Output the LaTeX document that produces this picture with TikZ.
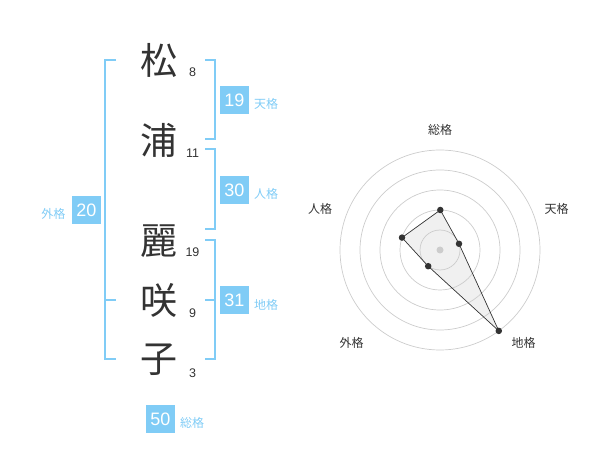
\documentclass[tikz,border=0pt]{standalone}
\usepackage{fontspec}
\setmainfont{Liberation Sans}
\newfontfamily\cjk{Noto Sans CJK JP}
\definecolor{kblue}{HTML}{80CCF6}
\definecolor{ktext}{HTML}{333333}
\definecolor{kgrid}{HTML}{CCCCCC}
\definecolor{kfill}{HTML}{F0F0F0}
\begin{document}
\begin{tikzpicture}[x=1pt,y=-1pt,
  kanji/.style={font=\cjk\fontsize{37}{37}\selectfont,text=ktext,inner sep=0pt},
  stroke/.style={font=\fontsize{12.5}{12.5}\selectfont,text=ktext,inner sep=0pt},
  valbox/.style={fill=kblue,text=white,font=\fontsize{18}{18}\selectfont,minimum width=29pt,minimum height=28pt,inner sep=0pt},
  vallabel/.style={font=\cjk\fontsize{12}{12}\selectfont,text=kblue,inner sep=0pt},
  bracket/.style={draw=kblue,line width=2pt},
  grid/.style={draw=kgrid,line width=0.7pt},
  axlabel/.style={font=\cjk\fontsize{12}{12}\selectfont,text=ktext,inner sep=0pt},
  dot/.style={circle,fill=ktext,inner sep=0pt,minimum size=6.5pt}]
\useasboundingbox (0,0) rectangle (600,470);
% characters
\node[kanji] (c1) at (159,60) {松};
\node[kanji] (c2) at (159,140) {浦};
\node[kanji] (c3) at (159,241) {麗};
\node[kanji] (c4) at (159,300) {咲};
\node[kanji] (c5) at (159,360) {子};
\node[stroke] (s1) at (192.7,72.7) {8};
\node[stroke] (s2) at (192.5,153.3) {11};
\node[stroke] (s3) at (192.5,252.3) {19};
\node[stroke] (s4) at (192.7,313.3) {9};
\node[stroke] (s5) at (192.7,373.3) {3};
% brackets
\draw[bracket] (116,60) -- (105,60) -- (105,359.5) -- (116,359.5);
\draw[bracket] (105,300) -- (116,300);
\draw[bracket] (205,60) -- (214.5,60) -- (214.5,139.5) -- (205,139.5);
\draw[bracket] (205,149.5) -- (214.5,149.5) -- (214.5,229) -- (205,229);
\draw[bracket] (205,240) -- (214.5,240) -- (214.5,359.5) -- (205,359.5);
\draw[bracket] (205,300) -- (214.5,300);
% value boxes
\node[valbox] (gai) at (86.5,210) {20};
\node[vallabel] (gail) at (53.5,213.5) {外格};
\node[valbox] (ten) at (234.5,100) {19};
\node[vallabel] (tenl) at (266,104) {天格};
\node[valbox] (jin) at (234.5,190) {30};
\node[vallabel] (jinl) at (266,194) {人格};
\node[valbox] (chi) at (234.5,300) {31};
\node[vallabel] (chil) at (266,304.5) {地格};
\node[valbox] (sou) at (160.5,419) {50};
\node[vallabel] (soul) at (192,422.5) {総格};
% radar
\coordinate (O) at (440,250);
\coordinate (pS) at (440.3,210);
\coordinate (pT) at (459.0,243.8);
\coordinate (pC) at (498.8,330.9);
\coordinate (pG) at (428.2,266.2);
\coordinate (pJ) at (402.0,237.6);
\fill[kfill] (pS) -- (pT) -- (pC) -- (pG) -- (pJ) -- cycle;
\foreach \r in {20,40,60,80,100} \draw[grid] (O) circle[radius=\r];
\fill[kgrid] (O) circle[radius=3.5];
\draw[ktext,line width=0.7pt,line join=round] (pS) -- (pT) -- (pC) -- (pG) -- (pJ) -- cycle;
\foreach \p in {pS,pT,pC,pG,pJ} \node[dot] at (\p) {};
\node[axlabel] (lS) at (440,130) {総格};
\node[axlabel] (lT) at (556.7,208.5) {天格};
\node[axlabel] (lC) at (523.5,342.5) {地格};
\node[axlabel] (lG) at (351.7,342.5) {外格};
\node[axlabel] (lJ) at (320,208.5) {人格};
\end{tikzpicture}
\end{document}
